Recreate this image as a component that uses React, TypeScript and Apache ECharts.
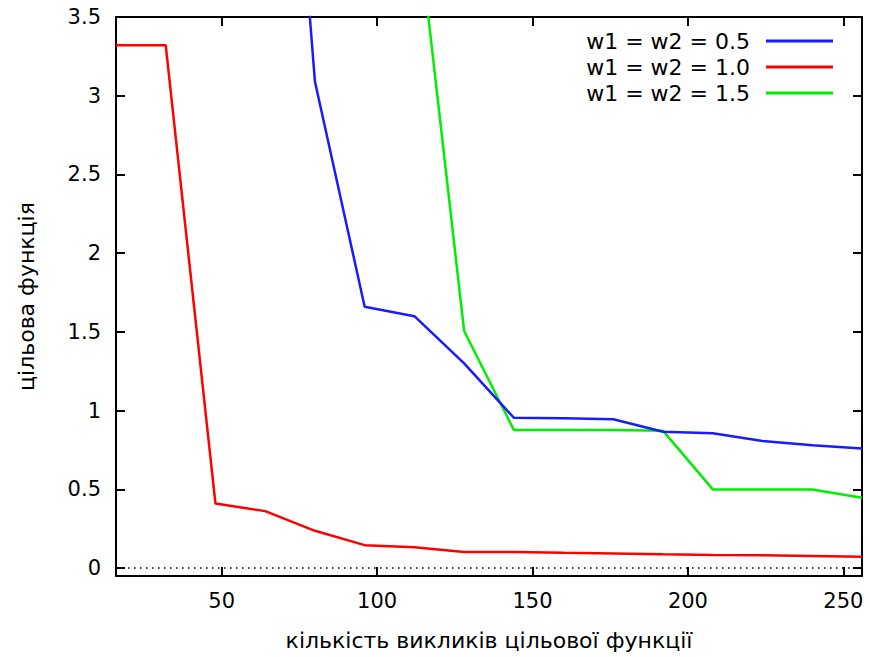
import React, { useEffect, useRef } from "react";
import * as echarts from "echarts";

const xValues = [16, 32, 48, 64, 80, 96, 112, 128, 144, 160, 176, 192, 208, 224, 240, 256];
const blueValues = [null, null, null, 7.1, 3.09, 1.66, 1.6, 1.3, 0.955, 0.952, 0.945, 0.866, 0.856, 0.807, 0.78, 0.76];
const redValues = [3.32, 3.32, 0.41, 0.362, 0.237, 0.146, 0.133, 0.103, 0.102, 0.097, 0.093, 0.088, 0.084, 0.081, 0.077, 0.072];
const greenValues = [null, null, null, null, null, null, 4.28, 1.506, 0.877, 0.877, 0.877, 0.872, 0.5, 0.5, 0.5, 0.447];
const seriesNames = ["w1 = w2 = 0.5", "w1 = w2 = 1.0", "w1 = w2 = 1.5"];
const seriesColors = ["#1a1aff", "#ff0000", "#00ee00"];
const xTicks = [50, 100, 150, 200, 250];
const yTicks = [0, 0.5, 1, 1.5, 2, 2.5, 3, 3.5];

const FONT = "DejaVu Sans";

export default function App() {
  const ref = useRef<HTMLDivElement>(null);
  useEffect(() => {
    document.body.style.margin = "0";
    if (!ref.current) return;
    const chart = echarts.init(ref.current, null, { renderer: "svg" });
    const toPairs = (vals: (number | null)[]) =>
      xValues.map((x, i) => [x, vals[i] === null ? null : vals[i]]);
    const allVals = [blueValues, redValues, greenValues];
    const axisLineStyle = { color: "#000", width: 2 };
    const tickStyle = { color: "#000", width: 2 };
    const xAxisBase = {
      type: "value",
      min: 16,
      max: 256,
      splitLine: { show: false },
      axisLine: { show: true, onZero: false, lineStyle: axisLineStyle },
    };
    const yAxisBase = {
      type: "value",
      min: -0.05,
      max: 3.5,
      splitLine: { show: false },
      axisLine: { show: true, onZero: false, lineStyle: axisLineStyle },
    };
    chart.setOption({
      animation: false,
      backgroundColor: "#ffffff",
      textStyle: { fontFamily: FONT },
      grid: { left: 116, right: 8, top: 17, bottom: 81, containLabel: false, outerBoundsMode: "none" },
      legend: {
        orient: "vertical",
        align: "right",
        right: 32,
        top: 25,
        itemWidth: 67,
        itemHeight: 3,
        itemGap: 4,
        icon: "rect",
        data: seriesNames.map((n, i) => ({ name: n, itemStyle: { color: seriesColors[i] } })),
        textStyle: { fontFamily: FONT, fontSize: 22, color: "#000", lineHeight: 22, padding: [0, 11, 0, 0] },
      },
      xAxis: [
        {
          ...xAxisBase,
          position: "bottom",
          name: "кількість викликів цільової функції",
          nameLocation: "middle",
          nameGap: 53,
          nameTextStyle: { fontFamily: FONT, fontSize: 22, color: "#000" },
          axisTick: { show: true, inside: true, length: 9, lineStyle: tickStyle, customValues: xTicks },
          axisLabel: { show: true, margin: 14, fontFamily: FONT, fontSize: 21, color: "#000", customValues: xTicks },
        },
        {
          ...xAxisBase,
          position: "top",
          axisTick: { show: true, inside: true, length: 9, lineStyle: tickStyle, customValues: xTicks },
          axisLabel: { show: false },
        },
      ],
      yAxis: [
        {
          ...yAxisBase,
          position: "left",
          name: "цільова функція",
          nameLocation: "middle",
          nameGap: 79,
          nameTextStyle: { fontFamily: FONT, fontSize: 22, color: "#000" },
          axisTick: { show: true, inside: true, length: 9, lineStyle: tickStyle, customValues: yTicks },
          axisLabel: { show: true, margin: 15, fontFamily: FONT, fontSize: 21, color: "#000", customValues: yTicks },
        },
        {
          ...yAxisBase,
          position: "right",
          axisTick: { show: true, inside: true, length: 9, lineStyle: tickStyle, customValues: yTicks },
          axisLabel: { show: false },
        },
      ],
      series: seriesNames.map((name, i) => ({
        name,
        type: "line",
        data: toPairs(allVals[i]),
        xAxisIndex: 0,
        yAxisIndex: 0,
        symbol: "none",
        clip: true,
        connectNulls: false,
        color: seriesColors[i],
        lineStyle: { color: seriesColors[i], width: 2.5 },
        z: 3 - i,
        markLine:
          i === 1
            ? {
                silent: true,
                symbol: "none",
                label: { show: false },
                lineStyle: { color: "#000", width: 1.5, type: [1.5, 4.5] },
                data: [{ yAxis: 0 }],
              }
            : undefined,
      })),
    });
    return () => chart.dispose();
  }, []);
  return <div ref={ref} style={{ width: 870, height: 657 }} />;
}
